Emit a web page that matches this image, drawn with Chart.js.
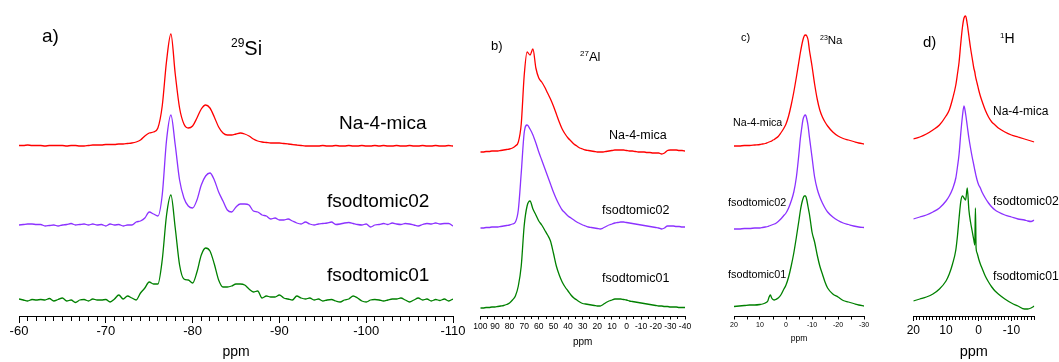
<!DOCTYPE html>
<html>
<head>
<meta charset="utf-8">
<script src="https://cdn.jsdelivr.net/npm/chart.js@4.4.1/dist/chart.umd.min.js"></script>
<style>
  body { margin: 0; background: #fff; font-family: "Liberation Sans", Arial, sans-serif; }
  #wrap { position: relative; width: 1059px; height: 362px; overflow: hidden; }
  canvas { position: absolute; top: 0; }
  .lbl { position: absolute; line-height: 1; transform: translateY(-50%); white-space: nowrap; color: #000; }
  .lbl span { position: relative; }
</style>
</head>
<body>
<div id="wrap">
  <canvas id="siChart" width="473" height="362" style="left:0px"></canvas>
  <canvas id="alChart" width="230" height="362" style="left:470px"></canvas>
  <canvas id="naChart" width="180" height="362" style="left:700px"></canvas>
  <canvas id="hChart" width="179" height="362" style="left:880px"></canvas>

  <div class="lbl" style="left:42px;top:35px;font-size:19px">a)</div>
  <div class="lbl" style="left:231px;top:48px;font-size:20px"><span style="font-size:12px;top:-8px">29</span>Si</div>
  <div class="lbl" style="left:339px;top:122px;font-size:19px">Na-4-mica</div>
  <div class="lbl" style="left:327px;top:200px;font-size:19px">fsodtomic02</div>
  <div class="lbl" style="left:327px;top:274px;font-size:19px">fsodtomic01</div>

  <div class="lbl" style="left:491px;top:45px;font-size:13px">b)</div>
  <div class="lbl" style="left:580px;top:56px;font-size:13px"><span style="font-size:8px;top:-5px">27</span>Al</div>
  <div class="lbl" style="left:609px;top:135px;font-size:12.5px">Na-4-mica</div>
  <div class="lbl" style="left:602px;top:210px;font-size:12.5px">fsodtomic02</div>
  <div class="lbl" style="left:602px;top:278px;font-size:12.5px">fsodtomic01</div>

  <div class="lbl" style="left:741px;top:37px;font-size:11px">c)</div>
  <div class="lbl" style="left:820px;top:41px;font-size:11.5px"><span style="font-size:7px;top:-4px">23</span>Na</div>
  <div class="lbl" style="left:733px;top:122px;font-size:10.7px">Na-4-mica</div>
  <div class="lbl" style="left:728px;top:202px;font-size:10.8px">fsodtomic02</div>
  <div class="lbl" style="left:728px;top:274px;font-size:10.8px">fsodtomic01</div>

  <div class="lbl" style="left:923px;top:41px;font-size:15px">d)</div>
  <div class="lbl" style="left:1000px;top:38px;font-size:14px"><span style="font-size:8px;top:-5px">1</span>H</div>
  <div class="lbl" style="left:993px;top:111px;font-size:12px">Na-4-mica</div>
  <div class="lbl" style="left:993px;top:201px;font-size:12.2px">fsodtomic02</div>
  <div class="lbl" style="left:993px;top:276px;font-size:12.2px">fsodtomic01</div>
</div>

<script>
// sample order: Na-4-mica (red), fsodtomic02 (purple), fsodtomic01 (green)
var sampleNames = ['Na-4-mica', 'fsodtomic02', 'fsodtomic01'];
var traceColors = ['#ff0000', '#8c32ff', '#008000'];

// ---- a) 29Si ----
var siPpm = [
  -60, -60.5, -61, -61.5, -62, -62.5, -63, -63.5, -64, -64.5,
  -65, -65.5, -66, -66.5, -67, -67.5, -68, -68.5, -69, -69.5,
  -70, -70.5, -71, -71.5, -72, -72.5, -73, -73.5, -74, -74.5,
  -75, -75.5, -76, -76.5, -77, -77.5, -78, -78.5, -79, -79.5,
  -80, -80.5, -81, -81.5, -82, -82.5, -83, -83.5, -84, -84.5,
  -85, -85.5, -86, -86.5, -87, -87.5, -88, -88.5, -89, -89.5,
  -90, -90.5, -91, -91.5, -92, -92.5, -93, -93.5, -94, -94.5,
  -95, -95.5, -96, -96.5, -97, -97.5, -98, -98.5, -99, -99.5,
  -100, -100.5, -101, -101.5, -102, -102.5, -103, -103.5, -104, -104.5,
  -105, -105.5, -106, -106.5, -107, -107.5, -108, -108.5, -109, -109.5,
  -110
];
var siRed = [
  0.5, 0.5, 1, 0.5, 0.5, 0.5, 0, 0.5, 0.5, 0.5,
  0.5, 0, 0.5, 0.5, 0, 0, 0.5, 1, 1, 1,
  1.5, 1.5, 1.5, 2, 2, 2.5, 3, 4, 6, 10,
  13, 14, 18, 40, 85, 112, 72, 38, 22, 18,
  20, 28, 37, 41, 38, 29, 19, 13, 11, 11,
  12, 13, 12, 10, 7, 5, 4, 3.5, 3, 3,
  3, 2.5, 2, 1.5, 1, 0.5, 0, 0, 0, 0,
  0.5, 0, 0, 0.5, 0, 0, 0.5, 0, 0, 0.5,
  0, 0, 0.5, 0, 0.5, 0, 0, 0.5, 0, 0,
  0.5, 0, 0, 0.5, 0, 0, 0.5, 0, 0, 0.5,
  0
];
var siPurple = [
  0, 0.5, 1, 1, 0.5, 0.5, -1, -0.5, 0, -1,
  0, 0.5, 1.5, 0, 0.5, 1, 0, 1, 0, 0.5,
  -1, 1, 0, 0.5, -1, 0, 0, 3, 4, 7,
  13, 11, 9, 30, 85, 110, 80, 45, 27, 19,
  17, 25, 40, 49, 52, 45, 33, 24, 15, 13,
  18, 21, 21, 20, 14, 13, 10, 9, 6, 7,
  5, 5, 6, 4, 2, 1, 3, 1, 0, 1,
  1.5, 2, 3, 0.5, 1, 2, 2.5, 1.5, 0.5, 0,
  1, -2, 0, 0.5, 1.5, 0.5, 2, 1, 0.5, 1.5,
  1, 0, -1, 0.5, 1.5, 1, 2, 1, 1.5, 1.5,
  -1
];
var siGreen = [
  1, 0, -1, 0.5, 0, 0.5, 0, 1.5, -1, 0.5,
  2, -1, 0, -2.5, 0, 0.5, -1, 1, 0, 0,
  0.5, -2, 1, 5, 1, 4, 2, 0, 7, 12,
  18, 16, 16, 40, 85, 105, 72, 35, 21, 20,
  17, 28, 45, 52, 49, 36, 20, 13, 13, 14,
  16, 16, 15, 11, 8, 9, 2, 4, 3, 3,
  5, 2, 1, 0, 4, 2, 1, 2, 0, 1,
  -1, 0, 0.5, -1, -2, 0, 1, 4, 2, -1,
  -2, 0, 0.5, 0, -1, 0, 1, 1, 2, 0,
  -2, 0, 2, 0, 1, -1, 0.5, -0.5, 1, -1,
  1
];
var siOffsets = [170, 91, 16];
var siTicks = [-60, -70, -80, -90, -100, -110];

// ---- b) 27Al ----
var alPpm = [
  100, 98, 96, 94, 92, 90, 88, 86, 84, 82,
  80, 78, 76, 74, 72, 70, 68, 66, 64, 62,
  60, 58, 56, 54, 52, 50, 48, 46, 44, 42,
  40, 38, 36, 34, 32, 30, 28, 26, 24, 22,
  20, 18, 16, 14, 12, 10, 8, 6, 4, 2,
  0, -2, -4, -6, -8, -10, -12, -14, -16, -18,
  -20, -22, -24, -26, -28, -30, -32, -34, -36, -38, -40
];
var alRed = [
  0, 0, 0.5, 0.5, 1, 1, 1, 1.5, 2, 2.5,
  3, 4, 6, 10, 28, 76, 100, 97, 103, 84,
  74, 70, 65, 59, 53, 46, 38, 30, 23, 18,
  14, 11, 8, 6, 4, 3, 2, 1.5, 1, 0.5,
  0, 0, 0, 0.5, 1, 1.5, 2, 2, 2, 2,
  1.5, 1, 1, 0.5, 0, 0, 0, -0.5, -0.5, -1,
  -1, -1, -2, -1, 1.5, 2, 2, 2, 1.5, 1.5, 1
];
var alPurple = [
  0, 0, 0.5, 0.5, 1, 1, 1, 1.5, 2, 2.5,
  3, 4, 6, 18, 55, 95, 103, 99, 93, 85,
  76, 68, 60, 52, 44, 36, 29, 23, 18, 15,
  12, 10, 8, 6, 4.5, 3, 2, 1, 0.5, 0,
  -0.5, -1, 0, 1.5, 3, 4, 5, 5.5, 6, 6,
  5.5, 5, 4.5, 4, 3.5, 3, 2.5, 2, 1.5, 1,
  0.5, 0, -1, 0, 2, 2, 2, 1.5, 1.5, 1, 1
];
var alGreen = [
  0, 0, 0.5, 0.5, 1, 1, 1.5, 2, 2.5, 3.5,
  5, 8, 12, 22, 42, 82, 102, 107, 99, 93,
  87, 83, 78, 73, 67, 55, 42, 33, 26, 21,
  17, 13, 10, 8, 6, 4.5, 4, 3.5, 3, 2.5,
  2, 2, 3.5, 5.5, 7, 8, 9, 9, 9, 8.5,
  8, 7, 6.5, 6, 5.5, 5, 4.5, 4, 3.5, 3,
  2.5, 2, 2, 1.5, 1.5, 1, 1, 1, 0.5, 0.5, 0.5
];
var alOffsets = [164, 88, 8];
var alTicks = [100, 90, 80, 70, 60, 50, 40, 30, 20, 10, 0, -10, -20, -30, -40];

// ---- c) 23Na ----
var naPpm = [
  20, 18, 16, 14, 12, 10, 9, 8, 7, 6.5,
  6, 5.5, 5, 4.5, 4, 3, 2, 1, 0, -1,
  -2, -3, -4, -5, -5.5, -6, -6.5, -7, -7.5, -8,
  -8.5, -9, -9.5, -10, -11, -12, -13, -14, -15, -16,
  -18, -20, -22, -24, -26, -28, -30
];
var naRed = [
  0, 0, 0.5, 0.5, 1, 1.5, 2, 2.5, 3.5, 4,
  4.5, 5, 6, 6.5, 7.5, 9.5, 13, 17, 22, 30,
  41, 54, 69, 85, 93, 100, 106, 110, 111, 110,
  106, 96, 88, 80, 62, 47, 36, 29, 24, 20,
  14, 10, 7.5, 6, 4.5, 3, 2
];
var naPurple = [
  0, 0, 0.5, 0.5, 1, 1, 1.5, 2, 2.5, 3,
  3.5, 4, 4.5, 5, 5.5, 7.5, 10, 13, 16, 21,
  28, 37, 52, 76, 90, 100, 109, 113, 114, 110,
  103, 92, 82, 72, 52, 40, 32, 26, 21, 17,
  12, 8.5, 6, 4.5, 3, 2, 1.5
];
var naGreen = [
  0.5, 1, 1.5, 2, 2, 2.5, 3, 4, 6, 10,
  12, 9, 7.5, 7, 7.5, 9, 12, 17, 22, 30,
  41, 54, 70, 87, 96, 103, 108, 111, 111, 107,
  100, 93, 84, 75, 65, 52, 41, 33, 25, 19,
  13, 10, 6.5, 5, 3.5, 2, 1
];
var naOffsets = [170, 87, 9];
var naTicks = [20, 10, 0, -10, -20, -30];

// ---- d) 1H ----
var hPpm = [
  20, 18, 16, 14, 12, 10, 9, 8, 7, 6.5,
  6, 5.5, 5, 4.5, 4, 3.5, 3, 2.5, 2, 1.5,
  1.2, 1, 0.8, 0.5, 0, -0.5, -1, -2, -3, -4,
  -5, -6, -8, -10, -12, -14, -15, -16, -17
];
var hRed = [
  3, 5, 8, 12, 17, 26, 32, 43, 57, 68,
  80, 98, 114, 124, 126, 118, 106, 94, 84, 74,
  70, 66, 63, 59, 52, 46, 41, 32, 25, 20,
  17, 14, 10, 7, 5, 3, 2, 1, 0
];
var hPurple = [
  3, 5, 7, 10, 14, 21, 26, 33, 44, 55,
  68, 88, 105, 116, 108, 96, 84, 74, 65, 57,
  52, 49, 46, 42, 37, 34, 30, 24, 19, 15,
  12, 10, 7, 5, 3, 2, 1, 0.5, 2
];
var hGreen = [
  7, 9, 11, 14, 19, 27, 34, 44, 58, 72,
  90, 106, 112, 110, 108, 120, 98, 86, 77, 68,
  63, 100, 60, 55, 49, 44, 40, 32, 26, 21,
  17, 14, 9, 5, 2, -1, -1, 0, 2
];
var hOffsets = [174, 94, 8];
var hTicks = [20, 10, 0, -10];

function makePanel(id, ppm, traces, offsets, cfg) {
  var datasets = traces.map(function (vals, i) {
    return {
      label: sampleNames[i],
      data: ppm.map(function (p, j) { return { x: p, y: vals[j] + offsets[i] }; }),
      borderColor: traceColors[i],
      borderWidth: 1.3,
      pointRadius: 0,
      cubicInterpolationMode: 'monotone',
      fill: false
    };
  });
  var isMajor = function (v) { return cfg.ticks.indexOf(v) >= 0; };
  return new Chart(document.getElementById(id), {
    type: 'line',
    data: { datasets: datasets },
    options: {
      responsive: false,
      animation: false,
      devicePixelRatio: 1,
      layout: { padding: { left: cfg.padL, right: cfg.padR, top: 10, bottom: 0 } },
      plugins: { legend: { display: false }, tooltip: { enabled: false } },
      scales: {
        x: {
          type: 'linear',
          reverse: true,
          min: cfg.min,
          max: cfg.max,
          afterFit: function (s) { s.height = 46; },
          // a tick mark at every minor step, labels only on the major ones
          afterBuildTicks: function (s) {
            var out = [];
            var n = Math.round((cfg.max - cfg.min) / cfg.minor);
            for (var k = 0; k <= n; k++) {
              out.push({ value: Math.round((cfg.min + k * cfg.minor) * 100) / 100 });
            }
            s.ticks = out;
          },
          border: { display: true, color: '#000', width: 1 },
          grid: {
            drawOnChartArea: false,
            tickLength: cfg.tickLen,
            tickColor: '#000',
            tickWidth: 1,
            tickBorderDash: function (c) {
              return (c.tick && isMajor(c.tick.value)) ? [] : [cfg.minorLen, 40];
            }
          },
          ticks: {
            color: '#000',
            font: { family: 'Liberation Sans', size: cfg.tickSize },
            padding: cfg.tickPad,
            maxRotation: 0,
            autoSkip: false,
            callback: function (v) { return isMajor(v) ? String(v) : ''; }
          },
          title: {
            display: true,
            text: 'ppm',
            color: '#000',
            font: { family: 'Liberation Sans', size: cfg.titleSize },
            padding: { top: 0, bottom: cfg.titleBottom }
          }
        },
        y: { display: false, min: 0, max: 306 }
      }
    }
  });
}

makePanel('siChart', siPpm, [siRed, siPurple, siGreen], siOffsets, {
  min: -110, max: -60, ticks: siTicks, padL: 19, padR: 20,
  tickLen: 7, minor: 1, minorLen: 4, tickSize: 13, tickPad: 1, titleSize: 14, titleBottom: 1
});
makePanel('alChart', alPpm, [alRed, alPurple, alGreen], alOffsets, {
  min: -40, max: 100, ticks: alTicks, padL: 10.3, padR: 15,
  tickLen: 3.5, minor: 5, minorLen: 2, tickSize: 8.5, tickPad: 2, titleSize: 10, titleBottom: 14
});
makePanel('naChart', naPpm, [naRed, naPurple, naGreen], naOffsets, {
  min: -30, max: 20, ticks: naTicks, padL: 34, padR: 16,
  tickLen: 3.5, minor: 5, minorLen: 2.5, tickSize: 7, tickPad: 1.5, titleSize: 8.5, titleBottom: 18
});
makePanel('hChart', hPpm, [hRed, hPurple, hGreen], hOffsets, {
  min: -17, max: 20, ticks: hTicks, padL: 33.3, padR: 24.7,
  tickLen: 5, minor: 1, minorLen: 3, tickSize: 12, tickPad: 2.5, titleSize: 14.5, titleBottom: 1
});
</script>
</body>
</html>
